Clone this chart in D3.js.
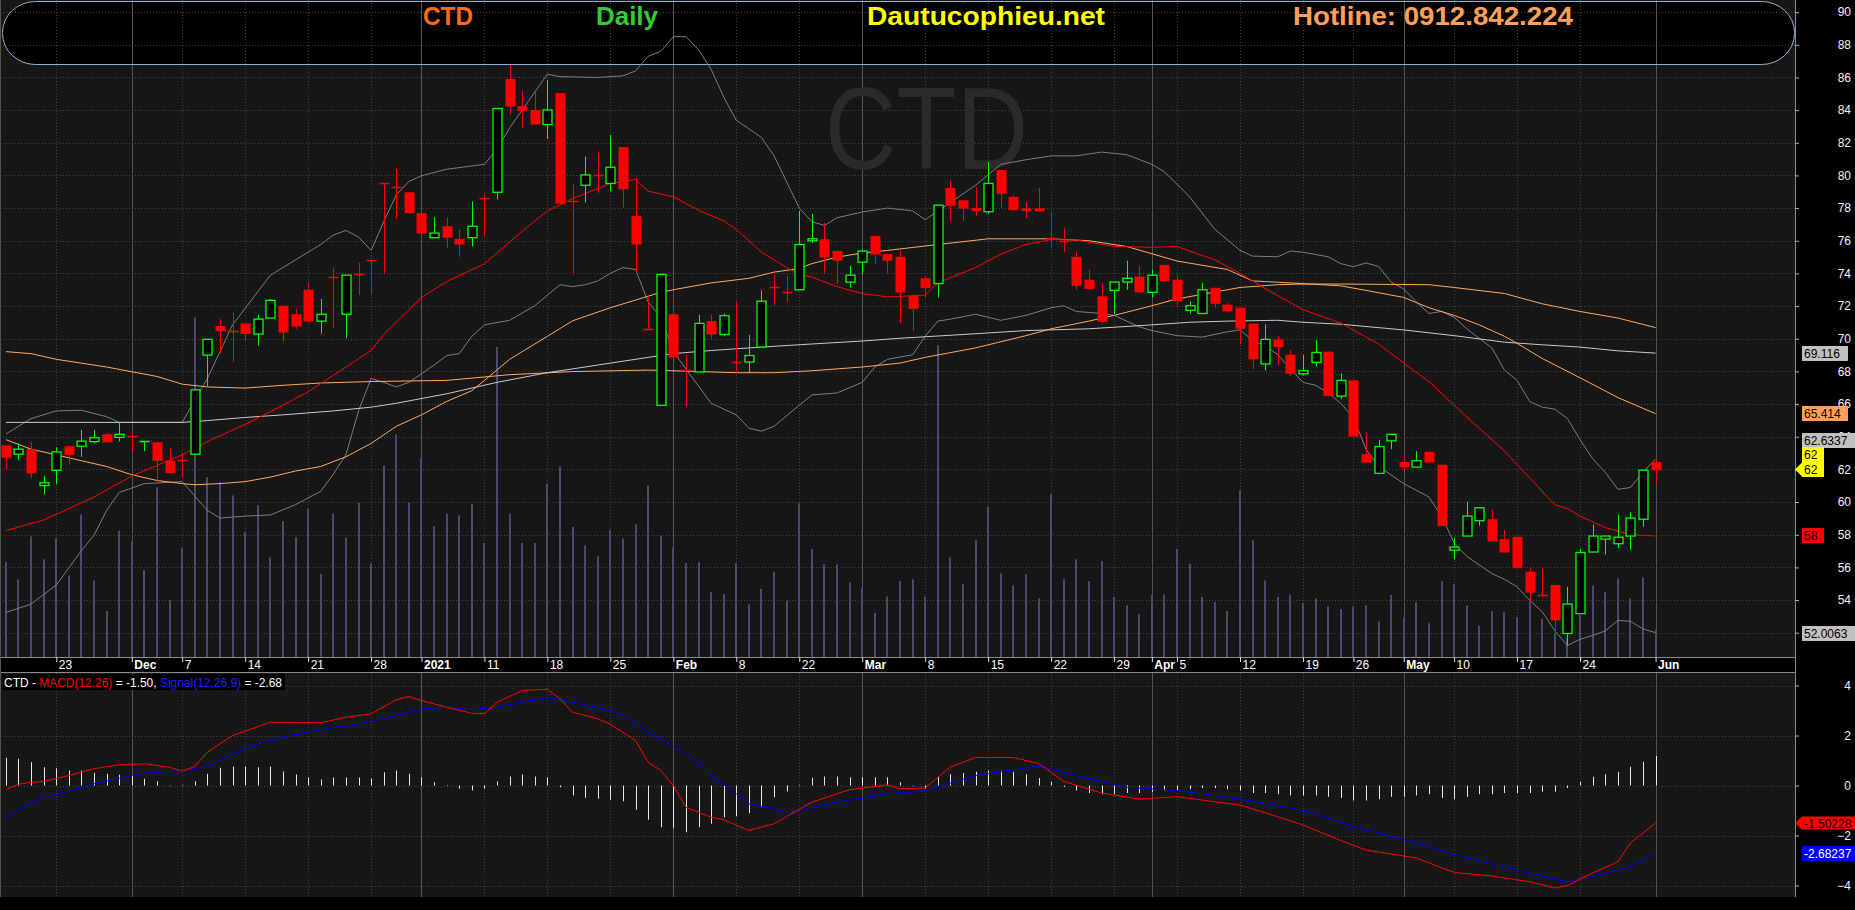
<!DOCTYPE html>
<html><head><meta charset="utf-8">
<script src="https://cdn.jsdelivr.net/npm/d3@7/dist/d3.min.js"></script>
<style>body{margin:0;background:#000;overflow:hidden}svg{display:block}text{font-family:"Liberation Sans",Arial,sans-serif}</style>
</head><body><svg id="c" width="1855" height="910"></svg>
<script>
// ---------- DATA ----------
const dates = [
"2020-11-17","2020-11-18","2020-11-19","2020-11-20",
"2020-11-23","2020-11-24","2020-11-25","2020-11-26","2020-11-27",
"2020-11-30","2020-12-01","2020-12-02","2020-12-03","2020-12-04",
"2020-12-07","2020-12-08","2020-12-09","2020-12-10","2020-12-11",
"2020-12-14","2020-12-15","2020-12-16","2020-12-17","2020-12-18",
"2020-12-21","2020-12-22","2020-12-23","2020-12-24","2020-12-25",
"2020-12-28","2020-12-29","2020-12-30","2020-12-31",
"2021-01-04","2021-01-05","2021-01-06","2021-01-07","2021-01-08",
"2021-01-11","2021-01-12","2021-01-13","2021-01-14","2021-01-15",
"2021-01-18","2021-01-19","2021-01-20","2021-01-21","2021-01-22",
"2021-01-25","2021-01-26","2021-01-27","2021-01-28","2021-01-29",
"2021-02-01","2021-02-02","2021-02-03","2021-02-04","2021-02-05",
"2021-02-08","2021-02-09","2021-02-17","2021-02-18","2021-02-19",
"2021-02-22","2021-02-23","2021-02-24","2021-02-25","2021-02-26",
"2021-03-01","2021-03-02","2021-03-03","2021-03-04","2021-03-05",
"2021-03-08","2021-03-09","2021-03-10","2021-03-11","2021-03-12",
"2021-03-15","2021-03-16","2021-03-17","2021-03-18","2021-03-19",
"2021-03-22","2021-03-23","2021-03-24","2021-03-25","2021-03-26",
"2021-03-29","2021-03-30","2021-03-31","2021-04-01","2021-04-02",
"2021-04-05","2021-04-06","2021-04-07","2021-04-08","2021-04-09",
"2021-04-12","2021-04-13","2021-04-14","2021-04-15","2021-04-16",
"2021-04-19","2021-04-20","2021-04-22","2021-04-23",
"2021-04-26","2021-04-27","2021-04-28","2021-04-29",
"2021-05-04","2021-05-05","2021-05-06","2021-05-07",
"2021-05-10","2021-05-11","2021-05-12","2021-05-13","2021-05-14",
"2021-05-17","2021-05-18","2021-05-19","2021-05-20","2021-05-21",
"2021-05-24","2021-05-25","2021-05-26","2021-05-27","2021-05-28",
"2021-05-31","2021-06-01"];

const opens = [
63.47,62.93,63.24,61.01,61.95,63.42,63.42,63.70,64.15,63.96,
64.03,63.68,63.66,62.53,62.60,62.93,69.00,70.78,70.49,70.94,
70.29,71.27,72.02,71.50,73.00,71.08,73.80,71.50,73.98,74.83,
79.53,79.30,78.97,77.69,76.19,76.89,76.12,76.19,78.64,78.97,
85.91,84.24,84.01,83.12,85.04,78.41,79.40,80.00,79.51,81.74,
77.52,70.60,65.93,71.50,68.06,67.97,71.08,70.26,68.60,68.58,
69.49,73.16,72.86,73.00,76.00,76.09,75.37,73.47,74.69,76.28,
75.18,75.02,72.63,73.70,73.38,79.23,78.48,78.01,77.78,80.33,
78.69,77.99,77.99,76.14,75.97,75.02,73.61,72.60,72.96,73.47,
73.80,72.84,74.52,73.61,71.74,71.55,73.12,72.09,71.90,70.92,
68.46,69.96,69.02,67.85,68.55,69.21,66.49,67.45,62.93,61.76,
63.75,62.46,62.14,63.07,62.28,57.05,57.92,58.86,58.95,57.73,
57.87,55.74,54.33,54.92,51.95,53.17,56.94,57.73,57.45,57.92,
58.95,62.46];
const highs = [
63.47,63.59,63.66,61.60,63.35,63.42,64.41,64.41,64.24,64.88,
64.24,63.73,63.66,63.31,63.00,66.87,69.96,71.20,71.62,70.94,
71.46,72.44,72.02,71.83,73.42,72.44,74.31,73.89,74.64,74.83,
79.53,80.43,78.97,77.87,77.45,77.45,76.70,78.41,78.88,84.10,
86.77,85.18,85.18,85.84,85.04,79.51,81.15,81.43,82.49,81.74,
79.86,72.49,73.94,72.25,69.02,71.46,71.46,71.55,72.30,70.24,
72.96,73.94,73.85,77.83,77.64,77.12,75.37,74.45,75.48,76.28,
75.18,75.41,72.63,73.85,78.18,79.70,78.48,79.28,80.82,80.33,
78.76,78.39,79.23,77.76,76.75,75.30,74.22,73.42,73.47,74.78,
74.45,74.22,74.52,73.89,72.30,73.42,73.12,72.18,71.90,70.92,
70.89,70.15,69.30,69.02,69.91,69.21,67.85,67.45,64.24,63.82,
64.15,62.89,63.12,63.07,62.28,57.78,60.03,59.65,59.54,58.30,
57.87,55.95,55.95,54.92,54.81,57.15,58.62,57.92,59.23,59.37,
61.95,62.53];
const lows = [
62.00,62.60,61.48,60.47,61.08,62.30,62.77,63.59,63.66,63.70,
63.12,63.12,61.25,61.76,61.53,62.93,67.10,69.09,68.58,69.86,
69.58,71.27,69.84,70.61,71.06,70.31,70.66,70.03,72.67,72.67,
73.99,77.36,77.69,76.44,76.19,75.53,75.02,75.65,76.28,78.53,
83.73,82.91,83.12,82.23,78.27,73.99,78.34,78.93,79.04,78.04,
73.99,70.54,65.93,68.86,65.81,67.97,69.96,70.15,67.99,67.92,
69.49,72.07,72.25,73.00,75.86,73.99,73.35,73.14,73.94,74.59,
73.99,70.96,70.50,72.53,72.53,77.22,77.22,77.52,77.64,78.04,
77.87,77.36,77.76,75.53,75.30,73.00,73.00,70.96,71.50,73.00,
72.84,72.53,73.47,72.02,71.55,71.55,71.90,71.67,69.68,68.15,
68.08,68.39,67.69,67.76,68.32,66.49,66.30,64.01,62.37,61.76,
63.24,62.00,62.14,62.42,58.53,56.49,57.92,58.55,57.59,56.91,
55.95,53.87,54.22,51.88,51.22,53.17,56.94,56.80,57.19,57.10,
58.48,61.13];
const closes = [
62.72,63.24,61.76,61.18,63.07,62.89,63.73,63.94,63.66,64.15,
64.00,63.73,62.53,61.76,62.57,66.87,69.96,70.47,70.47,70.29,
71.20,72.35,70.38,70.75,71.06,71.50,73.78,73.89,73.96,74.81,
79.51,79.28,77.69,76.44,76.47,76.19,75.77,76.89,78.62,84.10,
84.22,83.96,83.12,84.01,78.27,78.39,80.03,79.98,80.50,79.16,
75.77,70.54,73.94,68.86,68.04,70.94,70.26,71.41,68.58,68.97,
72.30,73.14,72.84,75.77,76.12,74.97,74.78,73.89,75.37,75.16,
74.78,72.84,71.83,73.10,78.18,78.15,77.97,77.83,79.51,78.88,
77.87,77.83,77.80,76.12,75.95,73.24,73.05,71.04,73.47,73.70,
72.84,73.89,73.52,72.30,72.02,73.00,72.14,71.67,70.61,68.74,
69.96,69.49,67.85,68.04,69.16,66.49,67.45,64.01,62.42,63.40,
64.15,62.14,62.53,62.42,58.53,57.24,59.14,59.65,57.59,56.91,
55.95,54.45,54.27,52.75,53.75,56.91,57.92,57.92,57.85,59.02,
61.95,61.95];
const volumes = [
949,777,1206,976,1186,815,1427,765,459,1263,
1156,869,1695,566,1091,3395,1799,1749,1615,1248,
1519,995,1359,1198,1485,830,1435,1194,1542,938,
1913,2227,1542,1990,1309,1435,1416,1531,1140,3100,
1435,1140,1140,1730,1906,1301,1117,1006,1271,1186,
1328,1714,1213,1098,938,949,651,628,938,528,
681,850,566,1538,1079,926,926,746,697,440,
605,758,777,605,3119,995,727,1167,1504,834,
716,827,586,1630,777,976,758,957,601,517,
429,620,624,1079,934,601,551,459,1665,1167,
765,601,624,543,586,505,478,505,517,356,
620,394,547,337,758,727,517,314,459,448,
402,574,383,230,190,421,716,651,785,586,
796,276];

// indicator lines: [bar number in dates, value]
const ma20 = [[0,58.25],[3,58.9],[7,60.31],[10,61.6],[14,62.89],[16,63.7],[19,64.76],[22,65.93],[24,66.75],[26,67.76],[29,69.28],[30,70.26],[33,72.53],[35,73.5],[38,74.59],[41,76.59],[43,77.83],[45,78.58],[48,79.51],[50,79.75],[51,79.04],[53,78.69],[55,77.87],[57,77.22],[58,76.7],[60,75.3],[62,74.36],[63,73.94],[64,73.78],[66,73.19],[68,72.77],[70,72.56],[73,72.67],[74,73.42],[77,74.36],[79,75.18],[81,75.77],[83,76.07],[85,76.05],[88,75.65],[91,75.6],[93,75.65],[96,74.83],[98,74.01],[100,73.07],[103,71.78],[106,70.96],[109,69.68],[111,68.51],[113,67.38],[115,65.93],[117,64.52],[119,63.12],[121,61.48],[123,59.84],[124,59.6],[125,59.14],[127,58.44],[129,58.01],[131,57.92]];
const bbUpper = [[0,64.17],[2,65.11],[4,65.58],[6,65.62],[8,65.23],[9,64.88],[14,64.88],[16,67.57],[18,70.85],[21,73.89],[23,74.83],[25,75.77],[26,76.35],[27,76.63],[28,76.23],[29,75.41],[30,77.17],[31,78.81],[32,79.63],[33,79.98],[35,80.38],[38,80.68],[39,81.62],[40,82.91],[43,86.2],[44,86.05],[47,86.0],[49,86.1],[50,86.4],[51,87.3],[52,87.6],[53,88.5],[54,88.5],[55,87.7],[56,86.5],[57,84.8],[58,83.38],[60,82.32],[61,81.2],[63,78.0],[64,77.17],[65,76.94],[66,77.41],[68,77.76],[70,78.0],[72,77.83],[73,77.29],[75,78.34],[77,79.4],[79,80.68],[81,80.96],[83,81.2],[85,81.2],[87,81.43],[89,81.27],[91,80.68],[92,80.22],[94,78.69],[96,76.7],[98,75.41],[99,75.06],[101,75.02],[102,75.37],[103,75.3],[105,75.02],[106,74.6],[107,74.41],[108,74.64],[109,74.43],[110,73.47],[111,73.05],[112,72.25],[113,71.55],[114,71.67],[115,71.32],[116,70.61],[118,69.44],[119,68.08],[120,67.45],[121,66.16],[122,65.81],[123,65.69],[124,65.11],[125,63.82],[126,62.65],[127,61.83],[128,60.78],[129,60.89],[130,61.83],[131,62.63]];
const bbLower = [[0,53.24],[2,53.75],[4,54.92],[6,57.03],[7,57.97],[8,59.49],[9,60.59],[11,61.13],[14,61.25],[16,59.49],[17,59.02],[19,59.14],[21,59.21],[23,59.84],[25,60.66],[26,61.71],[27,62.89],[28,65.58],[29,67.57],[30,67.33],[31,67.05],[32,67.33],[33,67.85],[34,68.39],[35,68.97],[36,69.09],[37,70.15],[38,70.85],[40,71.13],[42,72.02],[44,73.31],[45,73.19],[46,73.31],[47,73.54],[48,74.01],[49,74.36],[50,74.24],[51,72.25],[52,71.32],[53,69.21],[55,67.1],[56,66.05],[58,65.34],[59,64.52],[60,64.34],[61,64.64],[63,65.93],[64,66.56],[66,66.68],[68,67.33],[69,68.27],[70,68.74],[72,69.02],[73,70.15],[74,71.08],[75,71.2],[77,71.5],[79,71.13],[81,71.43],[83,71.9],[84,72.02],[85,71.67],[87,71.55],[88,71.43],[89,71.08],[90,70.73],[91,70.5],[93,70.19],[95,70.1],[97,70.43],[98,70.54],[99,69.91],[100,69.56],[101,69.02],[102,68.15],[103,67.33],[104,67.15],[105,66.68],[106,66.05],[107,65.18],[108,63.24],[109,62.18],[111,61.13],[113,60.31],[114,59.14],[115,57.5],[116,56.68],[118,55.62],[119,55.27],[120,54.81],[121,53.99],[122,53.28],[123,52.11],[124,51.22],[125,51.6],[126,51.83],[127,52.11],[128,52.75],[129,52.7],[130,52.23],[131,52.0]];
const maWhite = [[0,64.88],[4,64.88],[14,64.88],[16,64.99],[19,65.18],[22,65.34],[26,65.58],[29,65.81],[31,66.05],[35,66.63],[39,67.33],[43,67.92],[47,68.39],[51,68.86],[53,69.09],[56,69.28],[60,69.49],[64,69.68],[68,69.86],[71,70.03],[76,70.26],[81,70.5],[86,70.61],[91,70.85],[94,71.01],[97,71.08],[101,71.13],[103,71.01],[106,70.89],[111,70.54],[115,70.19],[119,69.79],[122,69.63],[125,69.49],[128,69.26],[131,69.12]];
const maOrangeFast = [[0,63.82],[2,63.24],[4,62.89],[6,62.53],[8,62.18],[10,61.67],[12,61.32],[14,61.13],[15,61.06],[17,61.13],[19,61.25],[21,61.53],[23,61.9],[25,62.18],[27,62.77],[29,63.59],[31,64.64],[33,65.34],[35,66.16],[37,66.82],[38,67.45],[40,68.74],[43,70.15],[45,71.1],[48,71.9],[50,72.37],[52,72.84],[53,73.0],[56,73.42],[59,73.7],[61,74.08],[63,74.3],[64,74.6],[66,75.0],[68,75.25],[70,75.41],[74,75.77],[78,76.12],[83,76.12],[86,76.0],[89,75.65],[93,74.76],[97,74.24],[99,73.54],[102,73.42],[106,73.24],[108,72.96],[111,72.53],[113,71.9],[115,71.43],[117,70.85],[119,70.15],[120,69.72],[122,68.79],[125,67.61],[128,66.4],[131,65.41]];
const maOrangeSlow = [[0,69.21],[2,69.09],[4,68.74],[8,68.27],[12,67.69],[14,67.22],[16,67.05],[19,66.98],[22,67.15],[25,67.29],[29,67.38],[35,67.45],[40,67.8],[45,67.99],[51,68.08],[53,68.04],[58,67.92],[61,67.92],[64,68.04],[68,68.27],[71,68.51],[73,68.86],[77,69.44],[81,70.19],[83,70.61],[86,71.08],[88,71.43],[91,72.02],[93,72.44],[95,72.72],[98,73.14],[101,73.31],[103,73.35],[106,73.35],[113,73.31],[115,73.14],[119,72.77],[122,72.14],[125,71.67],[128,71.27],[131,70.68]];

const macdLine = [[0,-0.17],[1,0.05],[2,0.13],[3,0.16],[5,0.4],[7,0.67],[9,0.83],[11,0.87],[13,0.73],[14,0.57],[15,0.76],[16,1.33],[18,2.0],[21,2.53],[25,2.51],[27,2.73],[29,2.87],[31,3.43],[32,3.56],[33,3.4],[35,3.13],[37,2.89],[38,2.87],[39,3.33],[41,3.8],[43,3.85],[44,3.47],[45,2.93],[47,2.67],[48,2.45],[50,1.8],[51,0.93],[52,0.6],[53,0],[54,-0.87],[56,-1.27],[57,-1.37],[59,-1.8],[61,-1.53],[62,-1.24],[64,-0.67],[66,-0.33],[67,-0.17],[70,0.03],[71,-0.13],[73,-0.1],[75,0.74],[77,1.12],[80,1.12],[82,0.88],[84,0.17],[87,-0.3],[90,-0.54],[93,-0.45],[98,-0.78],[101,-1.25],[103,-1.58],[106,-2.2],[108,-2.58],[112,-2.9],[115,-3.48],[118,-3.62],[121,-3.85],[123,-4.1],[124,-4.0],[126,-3.5],[128,-3.05],[129,-2.3],[131,-1.5]];
const signalLine = [[0,-1.33],[1,-0.93],[3,-0.47],[5,-0.23],[7,0.07],[9,0.29],[11,0.49],[14,0.6],[16,0.76],[18,1.27],[21,1.84],[25,2.23],[28,2.47],[31,2.8],[33,3.07],[35,3.13],[37,3.03],[39,3.13],[41,3.33],[43,3.51],[44,3.43],[47,3.13],[49,2.84],[51,2.13],[54,1.27],[56,0.4],[58,-0.33],[59,-0.73],[61,-0.93],[62,-1.07],[64,-0.87],[66,-0.67],[70,-0.33],[72,-0.27],[73,-0.2],[77,0.4],[82,0.78],[85,0.4],[89,-0.07],[93,-0.2],[98,-0.54],[103,-1.0],[107,-1.63],[112,-2.3],[116,-2.9],[120,-3.38],[124,-3.85],[126,-3.62],[129,-3.24],[131,-2.68]];
const macdHist = [
1.11,1.07,0.93,0.73,0.69,0.6,0.6,0.51,0.47,0.43,
0.43,0.27,0.17,0.02,0.02,0.17,0.47,0.71,0.76,0.76,
0.73,0.76,0.56,0.44,0.33,0.24,0.32,0.32,0.32,0.28,
0.53,0.6,0.47,0.33,0.13,0.02,-0.13,-0.2,-0.13,0.16,
0.36,0.44,0.36,0.33,-0.07,-0.4,-0.49,-0.53,-0.57,-0.63,
-0.97,-1.37,-1.67,-1.71,-1.87,-1.67,-1.53,-1.27,-1.23,-1.11,
-0.87,-0.47,-0.24,0.02,0.31,0.36,0.36,0.33,0.33,0.33,
0.33,0.13,0.02,-0.13,0.35,0.45,0.5,0.55,0.6,0.6,
0.55,0.45,0.3,0.15,-0.05,-0.2,-0.3,-0.35,-0.35,-0.3,
-0.3,-0.25,-0.2,-0.2,-0.15,-0.1,-0.1,-0.15,-0.2,-0.3,
-0.3,-0.35,-0.4,-0.4,-0.4,-0.45,-0.5,-0.6,-0.6,-0.55,
-0.45,-0.45,-0.4,-0.35,-0.5,-0.55,-0.45,-0.35,-0.35,-0.3,
-0.3,-0.3,-0.25,-0.25,-0.1,0.15,0.35,0.45,0.55,0.75,
0.95,1.18];

const dateTicks = ["2020-11-23","2020-12-01","2020-12-07","2020-12-14","2020-12-21","2020-12-28","2021-01-04","2021-01-11","2021-01-18","2021-01-25","2021-02-01","2021-02-08","2021-02-22","2021-03-01","2021-03-08","2021-03-15","2021-03-22","2021-03-29","2021-04-01","2021-04-05","2021-04-12","2021-04-19","2021-04-26","2021-05-04","2021-05-10","2021-05-17","2021-05-24","2021-06-01"];
const dateTickLabels = ["23","Dec","7","14","21","28","2021","11","18","25","Feb","8","22","Mar","8","15","22","29","Apr","5","12","19","26","May","10","17","24","Jun"];
const monthLabels = ["Dec","2021","Feb","Mar","Apr","May","Jun"];
const priceGrid = [52,54,56,58,60,62,64,66,68,70,72,74,76,78,80,82,84,86,88,90];
const priceLabels = [54,56,58,60,62,64,66,68,70,72,74,76,78,80,82,84,86,88,90];
const macdTicks = [-4,-2,0,2,4];
const headerTexts = ["CTD","Daily","Dautucophieu.net","Hotline: 0912.842.224"];
const titleParts = ["CTD - ","MACD(12,26)"," = -1.50, ","Signal(12,26,9)"," = -2.68"];
const lastValues = {close:62, ma20:58, bbUp:62.6337, bbLow:52.0063, maWhite:69.116, maFast:65.414, macd:-1.50228, signal:-2.68237};

// ---------- LAYOUT ----------
const W=1855, H=910, plotR=1795, priceBottom=657, dateBottom=673, macdBottom=897;
const svg = d3.select("#c");
const x = d3.scalePoint().domain(dates).range([5.9,1655.6]);
const yP = d3.scaleLinear().domain([52,88]).range([632.7,44.8]);
const yV = d3.scaleLinear().domain([0,4000]).range([priceBottom,257]);
const yM = d3.scaleLinear().domain([-4,4]).range([885.5,685.5]);
const xb = b => x(dates[b]);

svg.append("rect").attr("width",W).attr("height",H).attr("fill","#000");
svg.append("rect").attr("x",0).attr("y",0).attr("width",plotR).attr("height",priceBottom).attr("fill","#171717");
svg.append("rect").attr("x",0).attr("y",dateBottom).attr("width",plotR).attr("height",macdBottom-dateBottom).attr("fill","#171717");

// header box fill
const hb = {x:2,y:1,w:1792,h:63,r:33};
svg.append("rect").attr("x",hb.x).attr("y",hb.y).attr("width",hb.w).attr("height",hb.h).attr("rx",hb.r).attr("ry",31).attr("fill","#000");

// grids
const gGrid = svg.append("g");
priceGrid.forEach(v=>{
  gGrid.append("line").attr("x1",0).attr("x2",plotR).attr("y1",Math.round(yP(v))+0.5).attr("y2",Math.round(yP(v))+0.5)
   .attr("stroke","#444").attr("stroke-dasharray","1,2");
});
macdTicks.forEach(v=>{
  gGrid.append("line").attr("x1",0).attr("x2",plotR).attr("y1",Math.round(yM(v))+0.5).attr("y2",Math.round(yM(v))+0.5)
   .attr("stroke","#444").attr("stroke-dasharray","1,2");
});
dateTicks.forEach((d,i)=>{
  const isM = monthLabels.includes(dateTickLabels[i]);
  const xx = Math.round(x(d))+0.5;
  [[0,priceBottom],[dateBottom,macdBottom]].forEach(([a,b])=>{
    gGrid.append("line").attr("x1",xx).attr("x2",xx).attr("y1",a).attr("y2",b)
      .attr("stroke",isM?"#555":"#3e3e3e").attr("stroke-dasharray",isM?null:"1,2");
  });
});

// header box stroke & texts
svg.append("rect").attr("x",hb.x+0.5).attr("y",hb.y+0.5).attr("width",hb.w).attr("height",hb.h).attr("rx",hb.r).attr("ry",31)
  .attr("fill","none").attr("stroke","#8fb0d6").attr("stroke-width",1);
const hdr = [{t:headerTexts[0],x:423,w:50,c:"#ff6a1f"},{t:headerTexts[1],x:596,w:62,c:"#33cc33"},
             {t:headerTexts[2],x:867,w:238,c:"#ffff00"},{t:headerTexts[3],x:1293,w:280,c:"#ffa05a"}];
hdr.forEach(h=>svg.append("text").attr("x",h.x).attr("y",25).attr("fill",h.c).attr("font-size",26).attr("font-weight","bold")
  .attr("textLength",h.w).attr("lengthAdjust","spacingAndGlyphs").text(h.t));

// watermark
svg.append("text").attr("x",825).attr("y",169).attr("fill","#2b2a26").attr("font-size",117)
  .attr("textLength",203).attr("lengthAdjust","spacingAndGlyphs").text("CTD");

// volume
svg.append("g").selectAll("rect").data(volumes).join("rect")
  .attr("x",(v,i)=>Math.round(xb(i))-1).attr("width",2)
  .attr("y",v=>yV(v)).attr("height",v=>priceBottom-yV(v)).attr("fill","#4a4a74");

// lines
const line = (ys)=>d3.line().x(p=>xb(p[0])).y(p=>ys(p[1]));
const drawL = (data,ys,col,w)=>svg.append("path").attr("d",line(ys)(data)).attr("fill","none").attr("stroke",col).attr("stroke-width",w||1);
drawL(bbUpper,yP,"#7c7c7c");
drawL(bbLower,yP,"#7c7c7c");
drawL(maOrangeSlow,yP,"#ffa95a");
drawL(maWhite,yP,"#c8c8c8");
drawL(maOrangeFast,yP,"#ffa95a");
drawL(ma20,yP,"#ff0000");

// candles
const gC = svg.append("g");
dates.forEach((d,i)=>{
  const o=opens[i],h=highs[i],l=lows[i],c=closes[i];
  const up = c>o;
  const col = up?"#00ff00":"#ff0000";
  const cx = Math.round(x(d))+0.5;
  const yt = yP(Math.max(o,c)), yb = yP(Math.min(o,c));
  gC.append("line").attr("x1",cx).attr("x2",cx).attr("y1",yP(h)).attr("y2",yP(l)).attr("stroke",col);
  if (yb-yt<1.5){
    gC.append("line").attr("x1",cx-5).attr("x2",cx+5).attr("y1",Math.round(yt)+0.5).attr("y2",Math.round(yt)+0.5).attr("stroke",col).attr("stroke-width",1.5);
  } else if (up){
    gC.append("rect").attr("x",cx-4.5).attr("y",yt).attr("width",9).attr("height",yb-yt).attr("fill","#000").attr("stroke",col).attr("stroke-width",1.3);
  } else {
    gC.append("rect").attr("x",cx-5).attr("y",yt).attr("width",10).attr("height",yb-yt).attr("fill",col);
  }
});

// MACD
svg.append("g").selectAll("line").data(macdHist).join("line")
  .attr("x1",(v,i)=>Math.round(xb(i))+0.5).attr("x2",(v,i)=>Math.round(xb(i))+0.5)
  .attr("y1",yM(0)).attr("y2",v=>yM(v)).attr("stroke","#e6e6e6");
drawL(signalLine,yM,"#0000ff");
drawL(macdLine,yM,"#ff0000");

// separators
svg.append("rect").attr("x",0).attr("y",priceBottom).attr("width",plotR).attr("height",dateBottom-priceBottom).attr("fill","#000");
svg.append("line").attr("x1",0).attr("x2",plotR).attr("y1",priceBottom+0.5).attr("y2",priceBottom+0.5).attr("stroke","#8a8a8a");
svg.append("line").attr("x1",0).attr("x2",plotR).attr("y1",dateBottom-0.5).attr("y2",dateBottom-0.5).attr("stroke","#8a8a8a");
svg.append("line").attr("x1",plotR+0.5).attr("x2",plotR+0.5).attr("y1",0).attr("y2",macdBottom).attr("stroke","#8a8a8a");
svg.append("line").attr("x1",0.5).attr("x2",0.5).attr("y1",0).attr("y2",macdBottom).attr("stroke","#555");

// date axis
const xAxis = d3.axisBottom(x).tickValues(dateTicks).tickFormat((d,i)=>dateTickLabels[i]).tickSize(5).tickSizeOuter(0);
const gx = svg.append("g").attr("transform",`translate(0,${priceBottom})`).call(xAxis);
gx.select(".domain").remove();
gx.selectAll("line").attr("stroke","#ddd");
gx.selectAll("text").attr("text-anchor","start").attr("x",2).attr("y",3).attr("fill","#fff")
  .attr("font-size",12).attr("font-family","Liberation Sans Narrow, Liberation Sans, Arial")
  .attr("font-weight",(d,i)=>monthLabels.includes(dateTickLabels[i])?"bold":"normal");

// price axis
const gy = svg.append("g").attr("transform",`translate(${plotR},0)`).call(d3.axisRight(yP).tickValues(priceGrid).tickSize(4).tickFormat(d=>priceLabels.includes(d)?String(d):""));
gy.select(".domain").remove();
gy.selectAll("line").attr("stroke","#aaa");
gy.selectAll("text").filter(function(){return this.textContent==="";}).remove();
gy.selectAll("text").attr("x",56).attr("text-anchor","end").attr("fill","#f0f0ff").attr("font-size",12).attr("font-family","Liberation Sans, Arial");
const gm = svg.append("g").attr("transform",`translate(${plotR},0)`).call(d3.axisRight(yM).tickValues(macdTicks).tickSize(4).tickFormat(d3.format("d")));
gm.select(".domain").remove();
gm.selectAll("line").attr("stroke","#aaa");
gm.selectAll("text").attr("x",56).attr("text-anchor","end").attr("fill","#f0f0ff").attr("font-size",12).attr("font-family","Liberation Sans, Arial");

// value labels
function vbox(yc,w,bg,fg,txt){
  svg.append("rect").attr("x",1802).attr("y",yc-7.5).attr("width",w).attr("height",15).attr("fill",bg);
  svg.append("text").attr("x",1804).attr("y",yc+4.5).attr("fill",fg).attr("font-size",12).text(txt);
}
vbox(353.5,46,"#c0c0c0","#000",String(lastValues.maWhite));
vbox(413.5,46,"#ffa05a","#000",String(lastValues.maFast));
vbox(440.5,53,"#c0c0c0","#000",String(lastValues.bbUp));
vbox(535.5,22,"#ff0000","#000",String(lastValues.ma20));
vbox(633.5,53,"#c0c0c0","#000",String(lastValues.bbLow));
const yc = yP(lastValues.close);
svg.append("path").attr("d",`M1795,${yc} L1802,${yc-7} L1802,447 L1824,447 L1824,477 L1802,477 L1802,${yc+7} Z`).attr("fill","#ffff00");
svg.append("text").attr("x",1804).attr("y",459).attr("font-size",12).attr("fill","#000").text(String(lastValues.close));
svg.append("text").attr("x",1804).attr("y",474).attr("font-size",12).attr("fill","#000").text(String(lastValues.close));
const ym1 = yM(lastValues.macd);
svg.append("path").attr("d",`M1795,${ym1} L1802,${ym1-6.5} L1855,${ym1-6.5} L1855,${ym1+6.5} L1802,${ym1+6.5} Z`).attr("fill","#ff0000");
svg.append("text").attr("x",1804).attr("y",ym1+4.5).attr("font-size",12).attr("fill","#000").text(String(lastValues.macd));
vbox(853.5,53,"#0000ff","#fff",String(lastValues.signal));

// MACD title: separate text pieces laid out side by side, then squeezed to the reference width
svg.append("rect").attr("x",3).attr("y",674).attr("width",282).attr("height",16).attr("fill","#000");
const gt = svg.append("g");
const tcol = ["#fff","#ff0000","#fff","#2020ff","#fff"];
let cx0 = 0;
titleParts.forEach((t,i)=>{
  const el = gt.append("text").attr("x",cx0).attr("y",0).attr("font-size",13).attr("fill",tcol[i]).attr("xml:space","preserve").style("white-space","pre").text(t);
  cx0 += el.node().getComputedTextLength();
});
gt.attr("transform",`translate(4,687) scale(${278/cx0},1)`);
</script></body></html>
